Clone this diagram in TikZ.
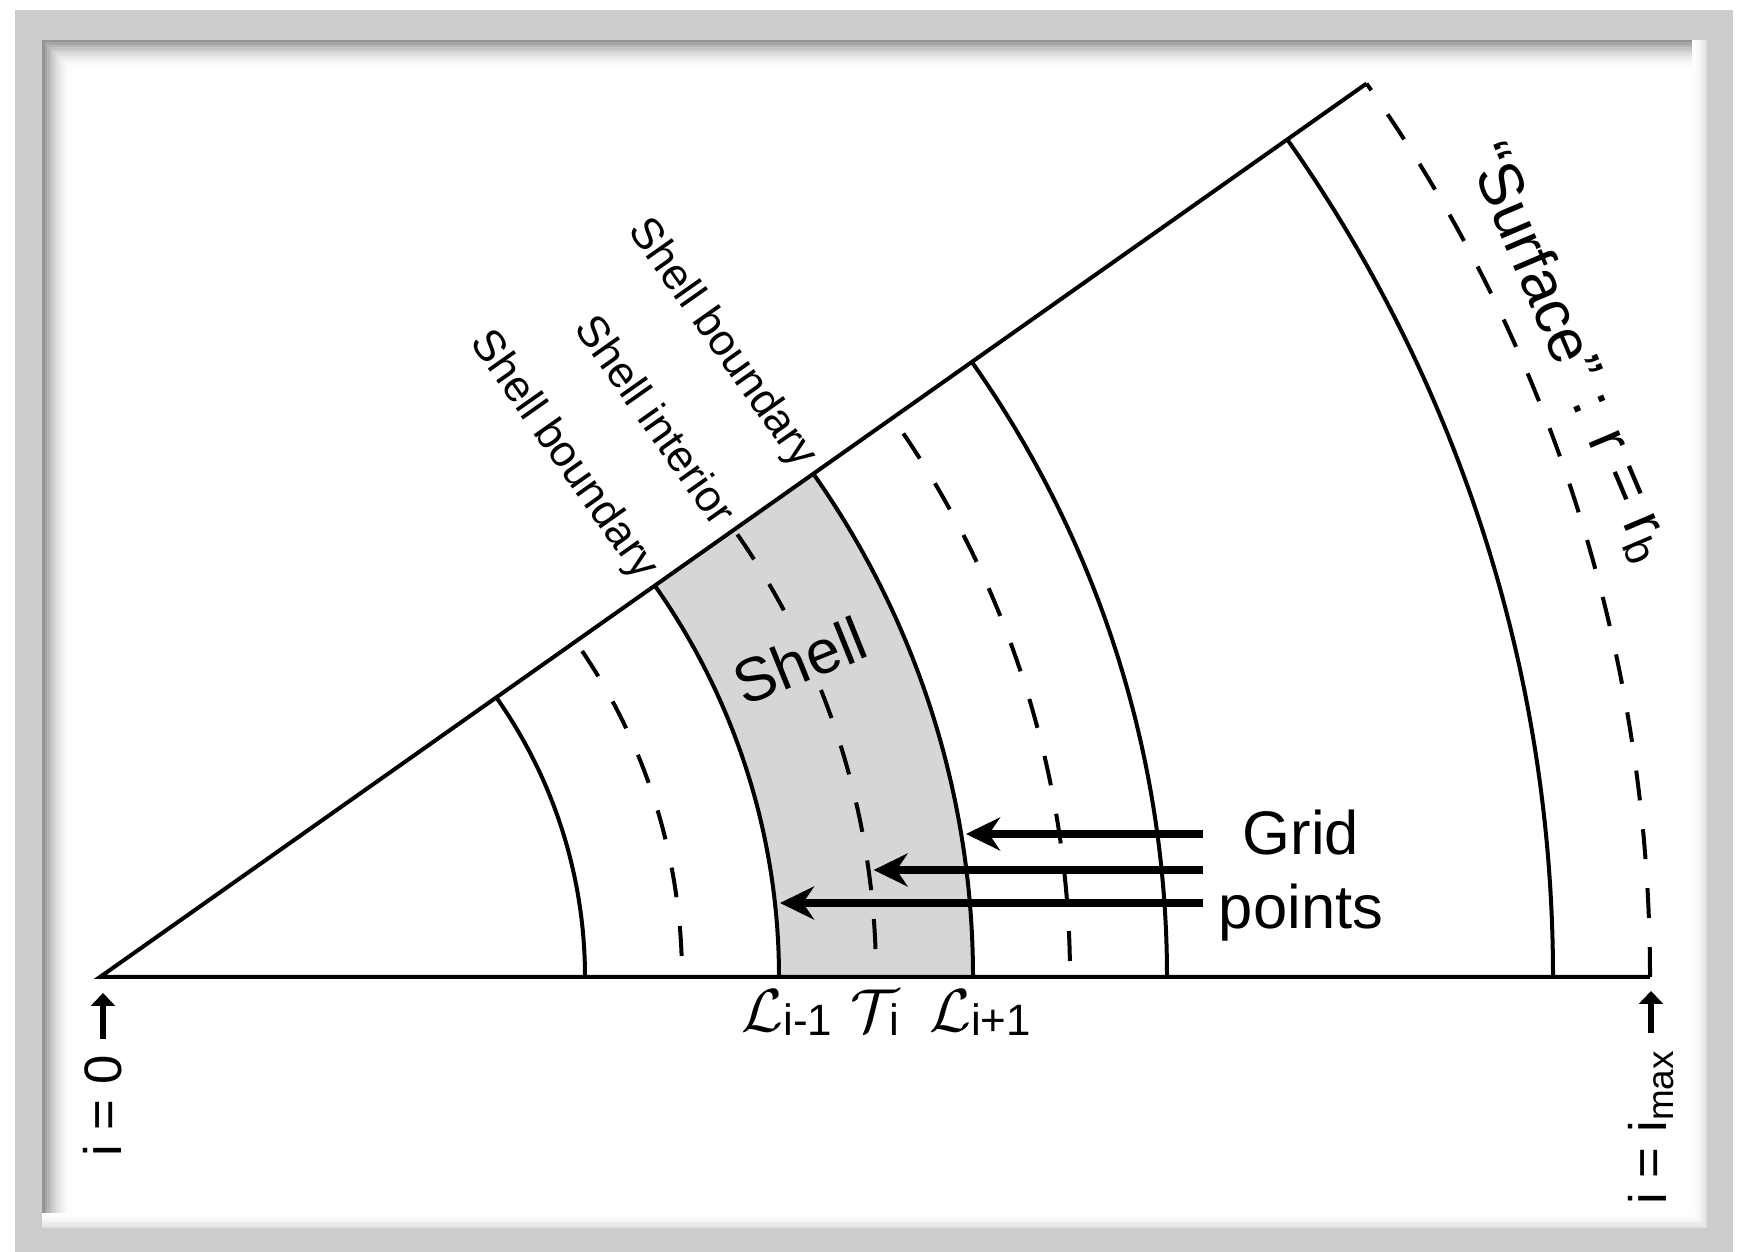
\documentclass[tikz,border=0pt]{standalone}
\usepackage{fontspec}
\setmainfont{Liberation Sans}
\usetikzlibrary{arrows.meta}

\newcommand\lblfont{\fontsize{17.5}{21}\selectfont}
\newcommand\tagfont{\fontsize{12.5}{15}\selectfont}
\newcommand\idxfont{\fontsize{15}{18}\selectfont}
\newcommand\calfont{\fontsize{18}{20}\selectfont}

\definecolor{framegray}{RGB}{204,204,204}
\definecolor{shellgray}{RGB}{214,214,214}

\begin{document}
\begin{tikzpicture}[x=0.1mm, y=0.1mm,
    arcline/.style={line width=0.4mm},
    dashline/.style={line width=0.4mm, dash pattern=on 3mm off 2.9mm},
    gridarrow/.style={line width=0.75mm, -{Stealth[length=3.4mm, width=3.3mm, inset=1.1mm]}, shorten >=0.5mm},
    idxarrow/.style={line width=0.65mm, -{Triangle[length=1.3mm, width=2.4mm]}},
    tag/.style={font=\tagfont, rotate=-54.8, anchor=east, inner sep=1.2mm}]

    \useasboundingbox (-100,-275) rectangle (1639,977);

    % Frame
    \fill[white] (-100,-275) rectangle (1639,977);
    \fill[framegray] (-85,-275) rectangle (1633,967);
    \fill[white] (-58,-251) rectangle (1607,937);
    \foreach \k in {0,...,11}{
        \pgfmathsetmacro\shade{42*(1-\k/12)^2}
        \draw[black!\shade, line width=0.26mm]
            (-58+2.5*\k+1.3,-251) -- (-58+2.5*\k+1.3,937-2.5*\k-1.3) -- (1607,937-2.5*\k-1.3);
    }
    \foreach \k in {0,...,5}{
        \pgfmathsetmacro\shade{12*(1-\k/6)^2}
        \draw[black!\shade, line width=0.26mm]
            (-58,-251+2.5*\k+1.3) -- (1607-2.5*\k-1.3,-251+2.5*\k+1.3) -- (1607-2.5*\k-1.3,937);
    }

    % Shell
    \fill[shellgray] (0:679) arc[start angle=0, end angle=35.2, radius=679]
        -- (35.2:873) arc[start angle=35.2, end angle=0, radius=873] -- cycle;

    % Sector
    \draw[arcline] (1550,0) -- (0,0) -- (35.2:1550);

    % Boundaries (solid) and interiors (dashed)
    \foreach \r in {485,679,873,1067,1453}
        \draw[arcline] (\r,0) arc[start angle=0, end angle=35.2, radius=\r];
    \foreach \r/\ph in {582/3.8mm, 776/3.1mm, 970/4.3mm, 1550/0mm}
        \draw[dashline, dash phase=\ph] (\r,0) arc[start angle=0, end angle=35.2, radius=\r];

    % Labels
    \node[tag] (sb1) at (35.2:679) {Shell boundary};
    \node[tag] (si) at (35.2:776) {Shell interior};
    \node[tag] (sb2) at (35.2:873) {Shell boundary};
    \node[font=\lblfont, rotate=22, fill=shellgray, inner sep=0.6mm] (shell) at (700,316) {Shell};
    \node[font=\lblfont, rotate=-67] (surf) at (23:1596) {“Surface” : r = r\textsubscript{b}};

    % Grid points
    \node[font=\lblfont, align=center] (grid) at (1201,101) {Grid\\points};
    \coordinate (g1) at (1103,143);
    \coordinate (g2) at (1103,107);
    \coordinate (g3) at (1103,74);
    \coordinate (p1) at (861,143);
    \coordinate (p2) at (768.6,107);
    \coordinate (p3) at (675,74);
    \draw[gridarrow] (g1) -- (p1);
    \draw[gridarrow] (g2) -- (p2);
    \draw[gridarrow] (g3) -- (p3);

    \node[anchor=base, font=\calfont] (lm) at (687,-55) {$\mathcal{L}$\raisebox{-0.4mm}{\tagfont i-1}};
    \node[anchor=base, font=\calfont] (ti) at (775,-55) {$\mathcal{T}$\kern-0.9mm\raisebox{-0.4mm}{\tagfont i}};
    \node[anchor=base, font=\calfont] (lp) at (880,-55) {$\mathcal{L}$\raisebox{-0.4mm}{\tagfont i+1}};

    % Index ends
    \node[font=\idxfont, rotate=90, inner sep=1.6mm] (i0) at (3,-129) {i = 0};
    \coordinate (i0tip) at (3,-16);
    \draw[idxarrow] (i0) -- (i0tip);
    \node[font=\idxfont, rotate=90, inner sep=1.6mm] (imax) at (1551,-150) {i = i\textsubscript{max}};
    \coordinate (imaxtip) at (1551,-14);
    \draw[idxarrow] (imax) -- (imaxtip);

\end{tikzpicture}
\end{document}
